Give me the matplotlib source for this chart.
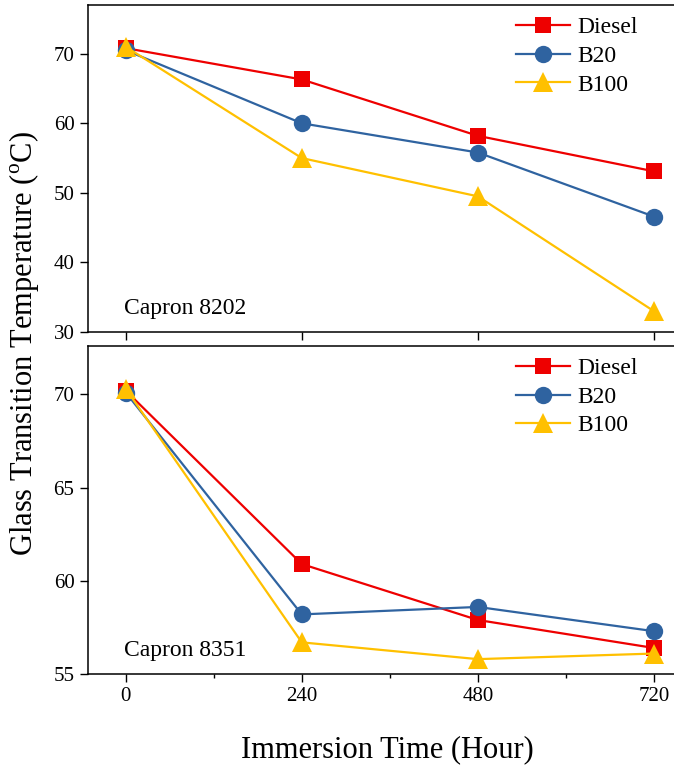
import numpy as np
import matplotlib
matplotlib.use("Agg")
import matplotlib.pyplot as plt
from matplotlib.ticker import FixedLocator

plt.rcParams["font.family"] = ["Liberation Serif", "DejaVu Serif"]
plt.rcParams["mathtext.fontset"] = "custom"
plt.rcParams["mathtext.rm"] = "Liberation Serif"

# Immersion time (hours)
hours = [0, 240, 480, 720]

# Glass transition temperature, Capron 8202
c8202_diesel = [70.8, 66.3, 58.2, 53.1]
c8202_b20 = [70.5, 60.0, 55.8, 46.6]
c8202_b100 = [71.0, 55.0, 49.5, 33.0]

# Glass transition temperature, Capron 8351
c8351_diesel = [70.2, 60.9, 57.9, 56.4]
c8351_b20 = [70.1, 58.2, 58.6, 57.3]
c8351_b100 = [70.3, 56.7, 55.8, 56.1]

fuels = ["Diesel", "B20", "B100"]
colors = {"Diesel": "#ee0000", "B20": "#2f63a0", "B100": "#ffc000"}
markers = {"Diesel": ("s", 11.5), "B20": ("o", 12.5), "B100": ("^", 14.5)}

fig = plt.figure(figsize=(6.74, 7.73), dpi=100)
# right edge of both panels runs just past the figure border
ax_top = fig.add_axes([0.130, 0.5705, 0.876, 0.423])
ax_bot = fig.add_axes([0.130, 0.128, 0.876, 0.4245])

panels = [
    (ax_top, [c8202_diesel, c8202_b20, c8202_b100], "Capron 8202"),
    (ax_bot, [c8351_diesel, c8351_b20, c8351_b100], "Capron 8351"),
]

for ax, series, name in panels:
    for fuel, vals in zip(fuels, series):
        m, ms = markers[fuel]
        ax.plot(hours, vals, color=colors[fuel], lw=1.6, marker=m,
                markersize=ms, markeredgewidth=0, label=fuel)
    ax.set_xlim(-52, 753)
    ax.set_xticks(hours)
    ax.tick_params(direction="out", length=6, width=1, labelsize=15)
    for s in ax.spines.values():
        s.set_linewidth(1.1)
    ax.text(0.062, 0.04, name, transform=ax.transAxes, fontsize=17,
            ha="left", va="bottom")
    ax.legend(loc="upper right", bbox_to_anchor=(0.952, 1.0), frameon=False,
              fontsize=17, handlelength=2.3, handletextpad=0.3,
              labelspacing=0.3, borderaxespad=0.1)

ax_top.set_ylim(30, 77)
ax_top.set_yticks([30, 40, 50, 60, 70])
ax_top.tick_params(axis="x", labelbottom=False)

ax_bot.set_ylim(55, 72.6)
ax_bot.set_yticks([55, 60, 65, 70])
ax_bot.xaxis.set_minor_locator(FixedLocator([120, 360, 600]))
ax_bot.tick_params(which="minor", direction="out", length=3, width=1)

fig.text(0.575, 0.03, "Immersion Time (Hour)", fontsize=22,
         ha="center", va="center")
fig.text(0.036, 0.556, r"Glass Transition Temperature ($^{\rm o}$C)",
         fontsize=22, rotation=90, ha="center", va="center")

fig.savefig("out.png", dpi=100)
